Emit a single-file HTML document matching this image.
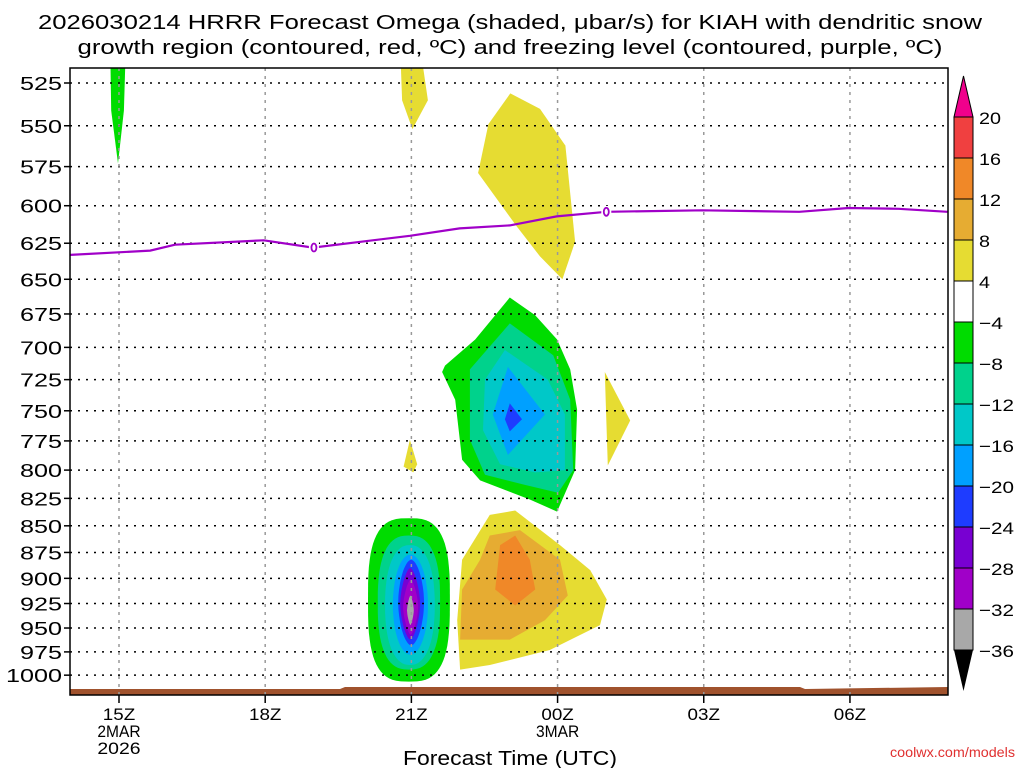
<!DOCTYPE html>
<html><head><meta charset="utf-8">
<style>
body{margin:0;background:#fff;}
svg{display:block;font-family:"Liberation Sans","DejaVu Sans",sans-serif;}
</style></head>
<body>
<svg id="chart" width="1024" height="768" viewBox="0 0 1024 768" xmlns="http://www.w3.org/2000/svg">
<text x="510" y="29" text-anchor="middle" font-size="20" textLength="944" lengthAdjust="spacingAndGlyphs">2026030214 HRRR Forecast Omega (shaded, μbar/s) for KIAH with dendritic snow</text>
<text x="510" y="54" text-anchor="middle" font-size="20" textLength="865" lengthAdjust="spacingAndGlyphs">growth region (contoured, red, ºC) and freezing level (contoured, purple, ºC)</text>
<defs><clipPath id="pc"><rect x="70" y="68" width="878" height="627"/></clipPath></defs>
<g id="fills" clip-path="url(#pc)"></g>
<g id="grid"></g>
<g id="fz" clip-path="url(#pc)"></g>
<rect x="70" y="68" width="878" height="627" fill="none" stroke="#000" stroke-width="1.5"/>
<g id="axes"></g>
<g id="cbar"></g>
<text x="510" y="765" text-anchor="middle" font-size="20" textLength="214" lengthAdjust="spacingAndGlyphs">Forecast Time (UTC)</text>
<text x="1015" y="757" text-anchor="end" font-size="14" fill="#e03030" textLength="125" lengthAdjust="spacingAndGlyphs">coolwx.com/models</text>
</svg>
<script>
// hours after 15Z 2 Mar 2026; pressure in hPa
const pressureTicks=[525,550,575,600,625,650,675,700,725,750,775,800,825,850,875,900,925,950,975,1000];
const timeTickHours=[0,3,6,9,12,15];
const timeTickLabels=[["15Z","2MAR","2026"],["18Z"],["21Z"],["00Z","3MAR"],["03Z"],["06Z"]];
const cbLevels=[20,16,12,8,4,-4,-8,-12,-16,-20,-24,-28,-32,-36];
const cbColors=["#f04040","#f08828","#e6ac32","#e6dc32","#ffffff","#00dc00","#00d28c","#00c8c8","#00a0ff","#1e3cff","#7800d2","#a000c8","#a8a8a8"];
const fzHours=[-1,0.64,1.15,2.97,3.98,5.97,6.99,8.02,8.98,10.0,11.97,13.96,14.97,16.0,17.0];
const fzPres=[633,630,626,623,628,620,615,613,607,604,603,604,601.5,602,604];
const fzLabelHours=[4,10];
// polygons [hour, hPa] with omega level color index
const polyLevels=[5,3,3,5,6,7,8,9,3,2,1,3,3];
const polys=[
 [[-0.18,505],[0.14,505],[0.10,541],[-0.02,573],[-0.16,541]],
 [[5.77,505],[6.18,505],[6.34,535],[6.02,552],[5.81,535]],
 [[8.03,531],[8.64,540],[9.16,562],[9.36,624],[9.10,650],[8.64,634],[8.17,614],[7.37,579],[7.58,549]],
 [[8.02,663],[7.31,694],[6.69,714],[6.63,719],[6.90,741],[7.04,791],[7.41,809],[8.43,826],[8.99,837],[9.36,800],[9.40,749],[9.26,717],[8.99,694],[8.54,676]],
 [[8.02,682],[7.20,717],[7.20,774],[7.51,804],[8.33,813],[9.01,820],[9.32,800],[9.26,741],[8.91,706]],
 [[7.92,702],[7.51,725],[7.47,766],[7.82,795],[8.54,802],[9.15,800],[9.15,753],[8.80,725]],
 [[7.98,715],[7.67,753],[7.98,787],[8.74,753]],
 [[8.02,744],[7.92,757],[8.02,767],[8.27,757]],
 [[7.61,840],[8.13,836],[9.05,868],[9.67,892],[10.01,921],[9.87,947],[8.84,973],[7.61,989],[7.0,994],[6.94,942],[7.04,882]],
 [[7.61,859],[8.23,854],[9.05,882],[9.21,917],[8.74,942],[8.02,962],[7.0,962],[7.04,911],[7.41,882]],
 [[7.82,868],[8.13,859],[8.43,882],[8.54,911],[8.13,927],[7.72,911]],
 [[9.97,719],[10.49,758],[10.03,796],[10.0,757]],
 [[5.97,774],[6.12,795],[6.04,802],[5.84,797]]
];
// lower-left core: [hMin,hMax,pTop,pBot,colorIndex,exponent]
const coreH0=[5.11,5.31,5.46,5.62,5.73,5.77,5.83,5.91];
const coreH1=[6.79,6.59,6.48,6.34,6.26,6.18,6.14,6.05];
const coreP0=[843,859,868,877,882,890,901,917];
const coreP1=[1007,994,989,978,968,962,957,947];
const coreLevels=[5,6,7,8,9,10,11,12];
const coreExp=[3,2.6,2.3,2,1.8,1.6,1.5,1.4];

const NS="http://www.w3.org/2000/svg";
const X=h=>119+h*48.73;
const Y=p=>83+919*Math.log(p/525);
function mk(tag,attrs,parent){const e=document.createElementNS(NS,tag);for(const k in attrs)e.setAttribute(k,attrs[k]);parent.appendChild(e);return e;}
const fills=document.getElementById('fills');
// ground
let g1=mk('path',{d:'M70,689 L340,689 L345,687 L800,687 L805,689 L948,687 L948,695 L70,695 Z',fill:'#a0522d'},fills);


polys.forEach((pl,i)=>{
 const e=mk('polygon',{points:pl.map(q=>X(q[0]).toFixed(1)+','+Y(q[1]).toFixed(1)).join(' '),fill:cbColors[polyLevels[i]]},fills);
 
 
});
coreH0.forEach((h0,i)=>{
 const cx=(X(h0)+X(coreH1[i]))/2, rx=(X(coreH1[i])-X(h0))/2;
 const cy=(Y(coreP0[i])+Y(coreP1[i]))/2, ry=(Y(coreP1[i])-Y(coreP0[i]))/2;
 const n=coreExp[i];const pts=[];
 for(let k=0;k<72;k++){const t=k/72*2*Math.PI;const c=Math.cos(t),s=Math.sin(t);
  pts.push((cx+rx*Math.sign(c)*Math.pow(Math.abs(c),2/n)).toFixed(1)+','+(cy+ry*Math.sign(s)*Math.pow(Math.abs(s),2/n)).toFixed(1));}
 const e=mk('polygon',{points:pts.join(' '),fill:cbColors[coreLevels[i]]},fills);
 
 
});
// grid + axes
const grid=document.getElementById('grid'), axes=document.getElementById('axes');
pressureTicks.forEach(p=>{
 const y=Y(p);
 const l=mk('line',{x1:70,x2:948,y1:y,y2:y,stroke:'#000','stroke-width':1.5,'stroke-dasharray':'2,6'},grid);
 
 
 mk('line',{x1:64,x2:70,y1:y,y2:y,stroke:'#000','stroke-width':1.5},axes);
 const s=String(p);
 const t=mk('text',{x:62,y:y+7,'text-anchor':'end','font-size':18,textLength:s.length*14,lengthAdjust:'spacingAndGlyphs'},axes);
 t.textContent=s;
 
 
});
timeTickHours.forEach((h,i)=>{
 const x=X(h);
 const l=mk('line',{x1:x,x2:x,y1:68,y2:695,stroke:'#999','stroke-width':1.5,'stroke-dasharray':'3,5'},grid);
 
 
 mk('line',{x1:x,x2:x,y1:695,y2:703,stroke:'#000','stroke-width':1.5},axes);
 timeTickLabels[i].forEach((s,j)=>{
  const t=mk('text',{x:x,y:720+j*17,'text-anchor':'middle','font-size':17,textLength:s.length*10.8,lengthAdjust:'spacingAndGlyphs'},axes);
  t.textContent=s;
  
  
 });
});
// freezing level
const fz=document.getElementById('fz');
const fl=mk('polyline',{points:fzHours.map((h,i)=>X(h).toFixed(1)+','+Y(fzPres[i]).toFixed(1)).join(' '),fill:'none',stroke:'#a000c8','stroke-width':2.2},fz);


fzLabelHours.forEach(h=>{
 let k=0;while(k<fzHours.length-2&&fzHours[k+1]<h)k++;
 const f=(h-fzHours[k])/(fzHours[k+1]-fzHours[k]);const p=fzPres[k]+f*(fzPres[k+1]-fzPres[k]);
 mk('rect',{x:X(h)-5,y:Y(p)-6,width:10,height:12,fill:'#fff'},fz);
 const e=mk('ellipse',{cx:X(h),cy:Y(p),rx:2.5,ry:4,fill:'none',stroke:'#a000c8','stroke-width':1.8},fz);
 
 
});
// colorbar
const cb=document.getElementById('cbar');
const cbx=954,cbw=19,cbTop=117,cbStep=41;
mk('polygon',{points:`${cbx},${cbTop} ${cbx+cbw},${cbTop} ${cbx+cbw/2},76`,fill:'#f0008c',stroke:'#000','stroke-width':1},cb);
cbColors.forEach((c,i)=>{
 const r=mk('rect',{x:cbx,y:cbTop+i*cbStep,width:cbw,height:cbStep,fill:c,stroke:'#000','stroke-width':1},cb);
 
 
});
const cbBot=cbTop+cbColors.length*cbStep;
mk('polygon',{points:`${cbx},${cbBot} ${cbx+cbw},${cbBot} ${cbx+cbw/2},691`,fill:'#000'},cb);
cbLevels.forEach((v,i)=>{
 const s=v<0?'\u2212'+(-v):String(v);
 const t=mk('text',{x:979,y:cbTop+i*cbStep+7,'font-size':17,textLength:(v<0?13:0)+String(Math.abs(v)).length*11,lengthAdjust:'spacingAndGlyphs'},cb);
 t.textContent=s;
 
 
});
</script>
</body></html>
